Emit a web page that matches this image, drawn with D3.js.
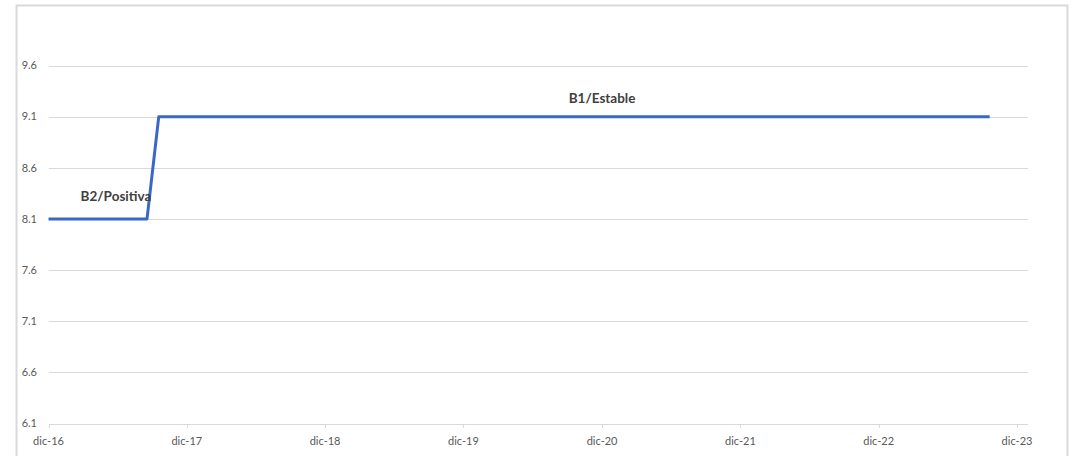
<!DOCTYPE html>
<html><head><meta charset="utf-8">
<script src="https://cdn.jsdelivr.net/npm/d3@7"></script>
<style>html,body{margin:0;padding:0;background:#fff;}svg{display:block;}</style>
</head><body>
<svg id="c" width="1076" height="456"></svg>
<script>
const dates = ["2016-12-01","2017-08-18","2017-09-18","2023-09-20"];
const values = [8.1, 8.1, 9.1, 9.1];
const yTicks = [6.1, 6.6, 7.1, 7.6, 8.1, 8.6, 9.1, 9.6];
const xTickLabels = ["dic-16","dic-17","dic-18","dic-19","dic-20","dic-21","dic-22","dic-23"];
const xTickDates = ["2016-12-01","2017-12-01","2018-12-01","2019-12-01","2020-12-01","2021-12-01","2022-12-01","2023-12-01"];
const labelTexts = ["B2/Positiva", "B1/Estable"];
const labelDates = ["2017-05-28", "2020-12-01"];
const labelValues = [8.1, 9.1];

const parse = d3.timeParse("%Y-%m-%d");
const svg = d3.select("#c");
const font = "Lato, 'Open Sans', sans-serif";
const labelOffsets = [-18, -14];

// frame
svg.append("rect").attr("x",16.5).attr("y",5.5).attr("width",1051).attr("height",460)
  .attr("fill","none").attr("stroke","#d9d9d9").attr("stroke-width",2);

const x = d3.scaleTime().domain([parse(xTickDates[0]), parse(xTickDates[7])]).range([48.5, 1017]);
const y = d3.scaleLinear().domain([6.1, 9.6]).range([423.5, 65.5]);
const gridX1 = 49, gridX2 = 1028;

// gridlines
svg.append("g").selectAll("line").data(yTicks).join("line")
  .attr("x1",gridX1).attr("x2",gridX2)
  .attr("y1",d=>Math.round(y(d))+0.5).attr("y2",d=>Math.round(y(d))+0.5)
  .attr("stroke","#d9d9d9").attr("stroke-width",1);

// y labels
svg.append("g").selectAll("text").data(yTicks).join("text")
  .attr("x",37).attr("y",d=>y(d)).attr("dy","0.35em").attr("text-anchor","end")
  .attr("font-family",font).attr("font-size",11).attr("fill","#595959")
  .text(d=>d3.format(".1f")(d));

// x ticks
const xt = svg.append("g");
xt.selectAll("line").data(xTickDates).join("line")
  .attr("x1",d=>Math.round(x(parse(d)))+0.5).attr("x2",d=>Math.round(x(parse(d)))+0.5)
  .attr("y1",424).attr("y2",428).attr("stroke","#d9d9d9");
xt.selectAll("text").data(xTickDates).join("text")
  .attr("x",d=>x(parse(d))).attr("y",445).attr("text-anchor","middle")
  .attr("font-family",font).attr("font-size",11).attr("fill","#595959")
  .text((d,i)=>xTickLabels[i]);

// line
const pts = dates.map((d,i)=>[parse(d), values[i]]);
svg.append("path").datum(pts)
  .attr("fill","none").attr("stroke","#3a68c6").attr("stroke-width",3)
  .attr("stroke-linejoin","round")
  .attr("d", d3.line().x(d=>x(d[0])).y(d=>y(d[1])));

// annotations
svg.append("g").selectAll("text").data(labelTexts).join("text")
  .attr("x",(d,i)=>x(parse(labelDates[i]))).attr("y",(d,i)=>y(labelValues[i])+labelOffsets[i])
  .attr("text-anchor","middle").attr("font-family",font).attr("font-weight","bold")
  .attr("font-size",13.5).attr("fill","#404040")
  .text(d=>d);
</script>
</body></html>
